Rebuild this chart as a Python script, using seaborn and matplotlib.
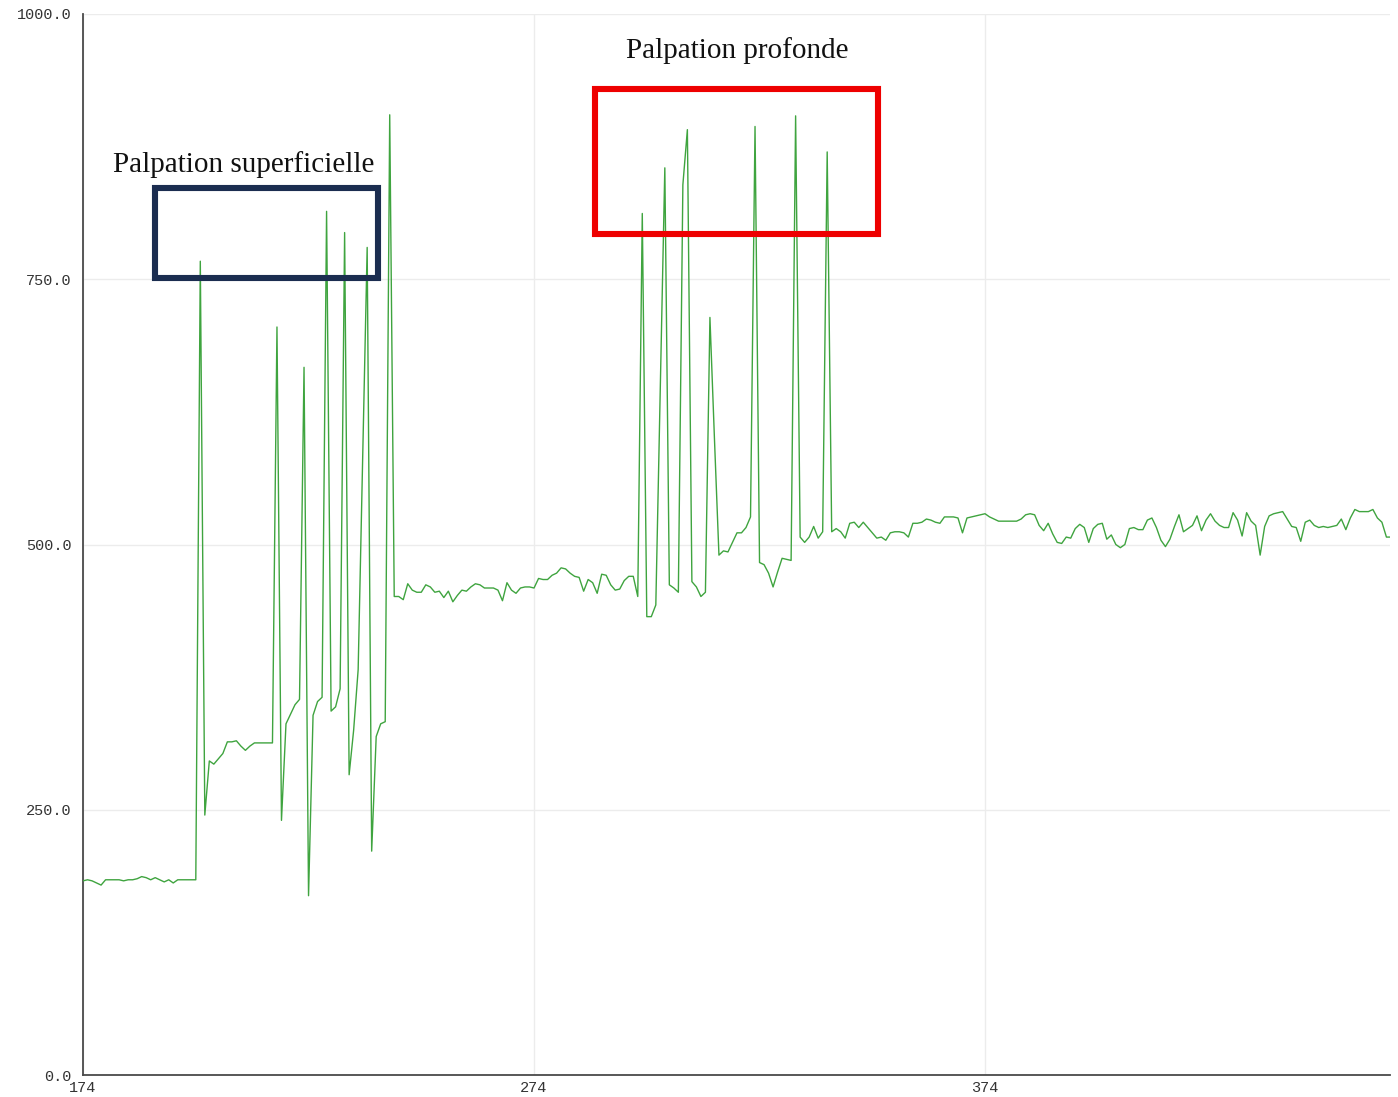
import matplotlib
matplotlib.use("Agg")
import matplotlib.pyplot as plt
from matplotlib.patches import Rectangle
import numpy as np
import pandas as pd
import seaborn as sns

# Sensor reading for each sample, starting at sample 174
start_sample = 174
baseline = [183, 184, 183, 181, 179, 184, 184, 184, 184, 183, 184, 184, 185,
            187, 186, 184, 186, 184, 182, 184, 181, 184, 184, 184, 184, 184]
light_press = [767, 245, 296, 293, 298, 303, 314, 314, 315, 310, 306, 310, 313,
               313, 313, 313, 313, 705, 240, 331, 340, 349, 354, 667, 169, 339,
               352, 356, 814, 343, 347, 364, 794, 283, 325, 382, 580, 780, 211,
               319, 331, 333, 905]
rest = [451, 451, 448, 463, 457, 455, 455, 462, 460, 455, 456, 450, 456, 446,
        452, 457, 456, 460, 463, 462, 459, 459, 459, 457, 447, 464, 457, 454,
        459, 460, 460, 459, 468, 467, 467, 471, 473, 478, 477, 473, 470, 469,
        456, 467, 464, 454, 472, 471, 462, 457, 458, 466, 470, 470, 451]
deep_press = [812, 432, 432, 443, 650, 855, 462, 459, 455, 839, 891, 465, 460,
              451, 455, 714, 600, 490, 494, 493, 502, 511, 511, 516, 526, 894,
              483, 481, 473, 460, 474, 487, 486, 485, 904, 507, 502, 507, 517,
              506, 512, 870, 512, 515, 512, 506, 520, 521, 516, 521, 516]
after = [511, 506, 507, 504, 511, 512, 512, 511, 507, 520, 520, 521, 524, 523,
         521, 520, 526, 526, 526, 525, 511, 525, 526, 527, 528, 529, 526, 524,
         522, 522, 522, 522, 522, 524, 528, 529, 528, 518, 513, 520, 510, 502,
         501, 507, 506, 515, 519, 516, 502, 515, 519, 520, 505, 509, 500, 497,
         500, 515, 516, 514, 514, 523, 525, 516, 504, 498, 505, 517, 528, 512,
         515, 518, 527, 513, 523, 529, 522, 518, 516, 516, 530, 523, 508, 530,
         522, 518, 490, 517, 527, 529, 530, 531, 524, 517, 516, 503, 521, 523,
         518, 516, 517, 516, 517, 518, 524, 514, 525, 533, 531, 531, 531, 533,
         525, 521, 507, 507]

values = baseline + light_press + rest + deep_press + after
samples = np.arange(start_sample, start_sample + len(values))
df = pd.DataFrame({"sample": samples, "value": values})

x_ticks = [174, 274, 374]
y_ticks = [0.0, 250.0, 500.0, 750.0, 1000.0]

sns.set_style("white")
plt.rcParams["font.family"] = ["Liberation Serif", "DejaVu Serif"]

fig = plt.figure(figsize=(13.98, 10.97), dpi=100)
ax = fig.add_axes([0.0594, 0.02005, 0.9349, 0.96719])

sns.lineplot(data=df, x="sample", y="value", ax=ax, color="#3fa43f",
             linewidth=1.0, zorder=3)

ax.set_xlim(174, 463.8)
ax.set_ylim(0, 1000)
ax.set_xticks(x_ticks)
ax.set_yticks(y_ticks)
ax.set_xticklabels([str(t) for t in x_ticks])
ax.set_yticklabels([f"{t:.1f}" for t in y_ticks])
ax.set_xlabel("")
ax.set_ylabel("")

ax.grid(True, color="#ececec", linewidth=1.0, zorder=0)
ax.set_axisbelow(True)
for side in ("top", "right"):
    ax.spines[side].set_visible(False)
for side in ("left", "bottom"):
    ax.spines[side].set_color("#4a4a4a")
    ax.spines[side].set_linewidth(1.3)

ax.tick_params(axis="both", direction="inout", length=9, width=1.2,
               color="#333333", labelsize=11, labelcolor="#333333")
ax.tick_params(axis="y", pad=4)
ax.tick_params(axis="x", pad=0)
for lab in ax.get_xticklabels() + ax.get_yticklabels():
    lab.set_fontfamily("Liberation Mono")

# Annotated regions
ax.add_patch(Rectangle((190.0, 751.0), 49.4, 85.0, fill=False,
                       edgecolor="#1b2d50", linewidth=4.4, zorder=4,
                       joinstyle="miter"))
ax.add_patch(Rectangle((287.5, 792.6), 62.8, 136.7, fill=False,
                       edgecolor="#ee0000", linewidth=4.4, zorder=4,
                       joinstyle="miter"))
ax.text(209.7, 858.0, "Palpation superficielle", ha="center", va="center",
        fontsize=21, color="#111111", zorder=5)
ax.text(319.0, 966.0, "Palpation profonde", ha="center", va="center",
        fontsize=21, color="#111111", zorder=5)

fig.savefig("out.png", dpi=100)
